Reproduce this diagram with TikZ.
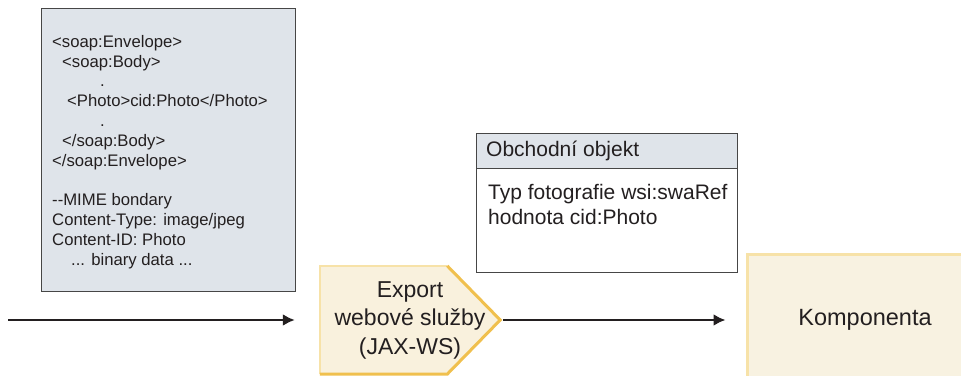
\documentclass[tikz,border=0pt]{standalone}
\usepackage{fontspec}
\setmainfont{Liberation Sans}
\usetikzlibrary{positioning,calc,arrows.meta,backgrounds}
\definecolor{envfill}{RGB}{223,228,234}
\definecolor{envline}{RGB}{70,70,70}
\definecolor{expfill}{RGB}{249,241,221}
\definecolor{expline}{RGB}{240,192,78}
\definecolor{explight}{RGB}{247,226,168}
\definecolor{compfill}{RGB}{248,242,225}
\definecolor{txt}{RGB}{35,31,32}

\begin{document}
\begin{tikzpicture}[
x=1pt, y=1pt,
envbox/.style={
  draw=envline,
  fill=envfill,
  line width=1.4pt,
  inner sep=0pt
  },
codetext/.style={
  inner sep=0pt,
  align=left,
  text=txt,
  font=\fontsize{16.7}{19.8}\selectfont
  },
objbox/.style={
  draw=envline,
  fill=white,
  line width=1.2pt,
  inner sep=0pt
  },
objhead/.style={
  draw=envline,
  fill=envfill,
  line width=1.2pt,
  inner sep=0pt
  },
objtext/.style={
  inner sep=0pt,
  align=left,
  text=txt,
  font=\fontsize{21}{25}\selectfont
  },
export/.style={
  inner sep=0pt,
  align=center,
  text=txt,
  font=\fontsize{23}{28.5}\selectfont
  },
comp/.style={
  draw=explight,
  fill=compfill,
  line width=3pt,
  text=txt,
  font=\fontsize{23.5}{28}\selectfont
  },
flow/.style={
  ->,
  line width=2.6pt,
  draw=txt
  },
>={Latex[length=12pt,width=12pt]}
]
\useasboundingbox (0,0) rectangle (961,375);

\node[envbox, minimum width=254pt, minimum height=283pt, anchor=south west] (env) at (41,83) {};
\node[codetext, anchor=north west] (envtxt) at (52,340)
{<soap:Envelope>\\
\hspace*{10pt}<soap:Body>\\
\hspace*{48pt}.\\
\hspace*{15pt}<Photo>cid:Photo</Photo>\\
\hspace*{48pt}.\\
\hspace*{10pt}</soap:Body>\\
</soap:Envelope>\\[19.8pt]
-{}-MIME bondary\\
Content-Type: image/jpeg\\
Content-ID: Photo\\
\hspace*{19pt}... binary data ...};

\node[objbox, minimum width=261pt, minimum height=139pt, anchor=south west] (obj) at (476,102) {};
\node[objhead, minimum width=261pt, minimum height=35pt, anchor=north west] (objtop) at (obj.north west) {};
\node[objtext, anchor=base west] (objname) at (486,218) {Obchodní objekt};
\node[objtext, anchor=north west] (objtxt) at (488,190.5)
{Typ fotografie wsi:swaRef\\
hodnota cid:Photo};

\node[export, minimum width=180pt, minimum height=108pt] (export) at (410,55)
{Export\\webové služby\\(JAX-WS)};
\begin{scope}[on background layer]
\fill[expfill] (export.north west) -- ($(export.north east)+(-53,0)$) -- (export.east)
  -- ($(export.south east)+(-53,0)$) -- (export.south west) -- cycle;
\draw[explight, line width=2pt] (export.south west) -- (export.north west) -- ($(export.north east)+(-53,0)$);
\draw[expline, line width=3pt, line join=miter] ($(export.north east)+(-53,0)$) -- (export.east)
  -- ($(export.south east)+(-53,0)$) -- (export.south west);
\end{scope}

\node[comp, minimum width=236pt, minimum height=130pt] (comp) at (865,55) {Komponenta};

\coordinate (in) at (8,55);
\draw[flow, shorten >=25pt] (in) -- (export.west);
\draw[flow, shorten <=3pt, shorten >=20pt] (export.east) -- (export.east -| comp.west);
\end{tikzpicture}
\end{document}
